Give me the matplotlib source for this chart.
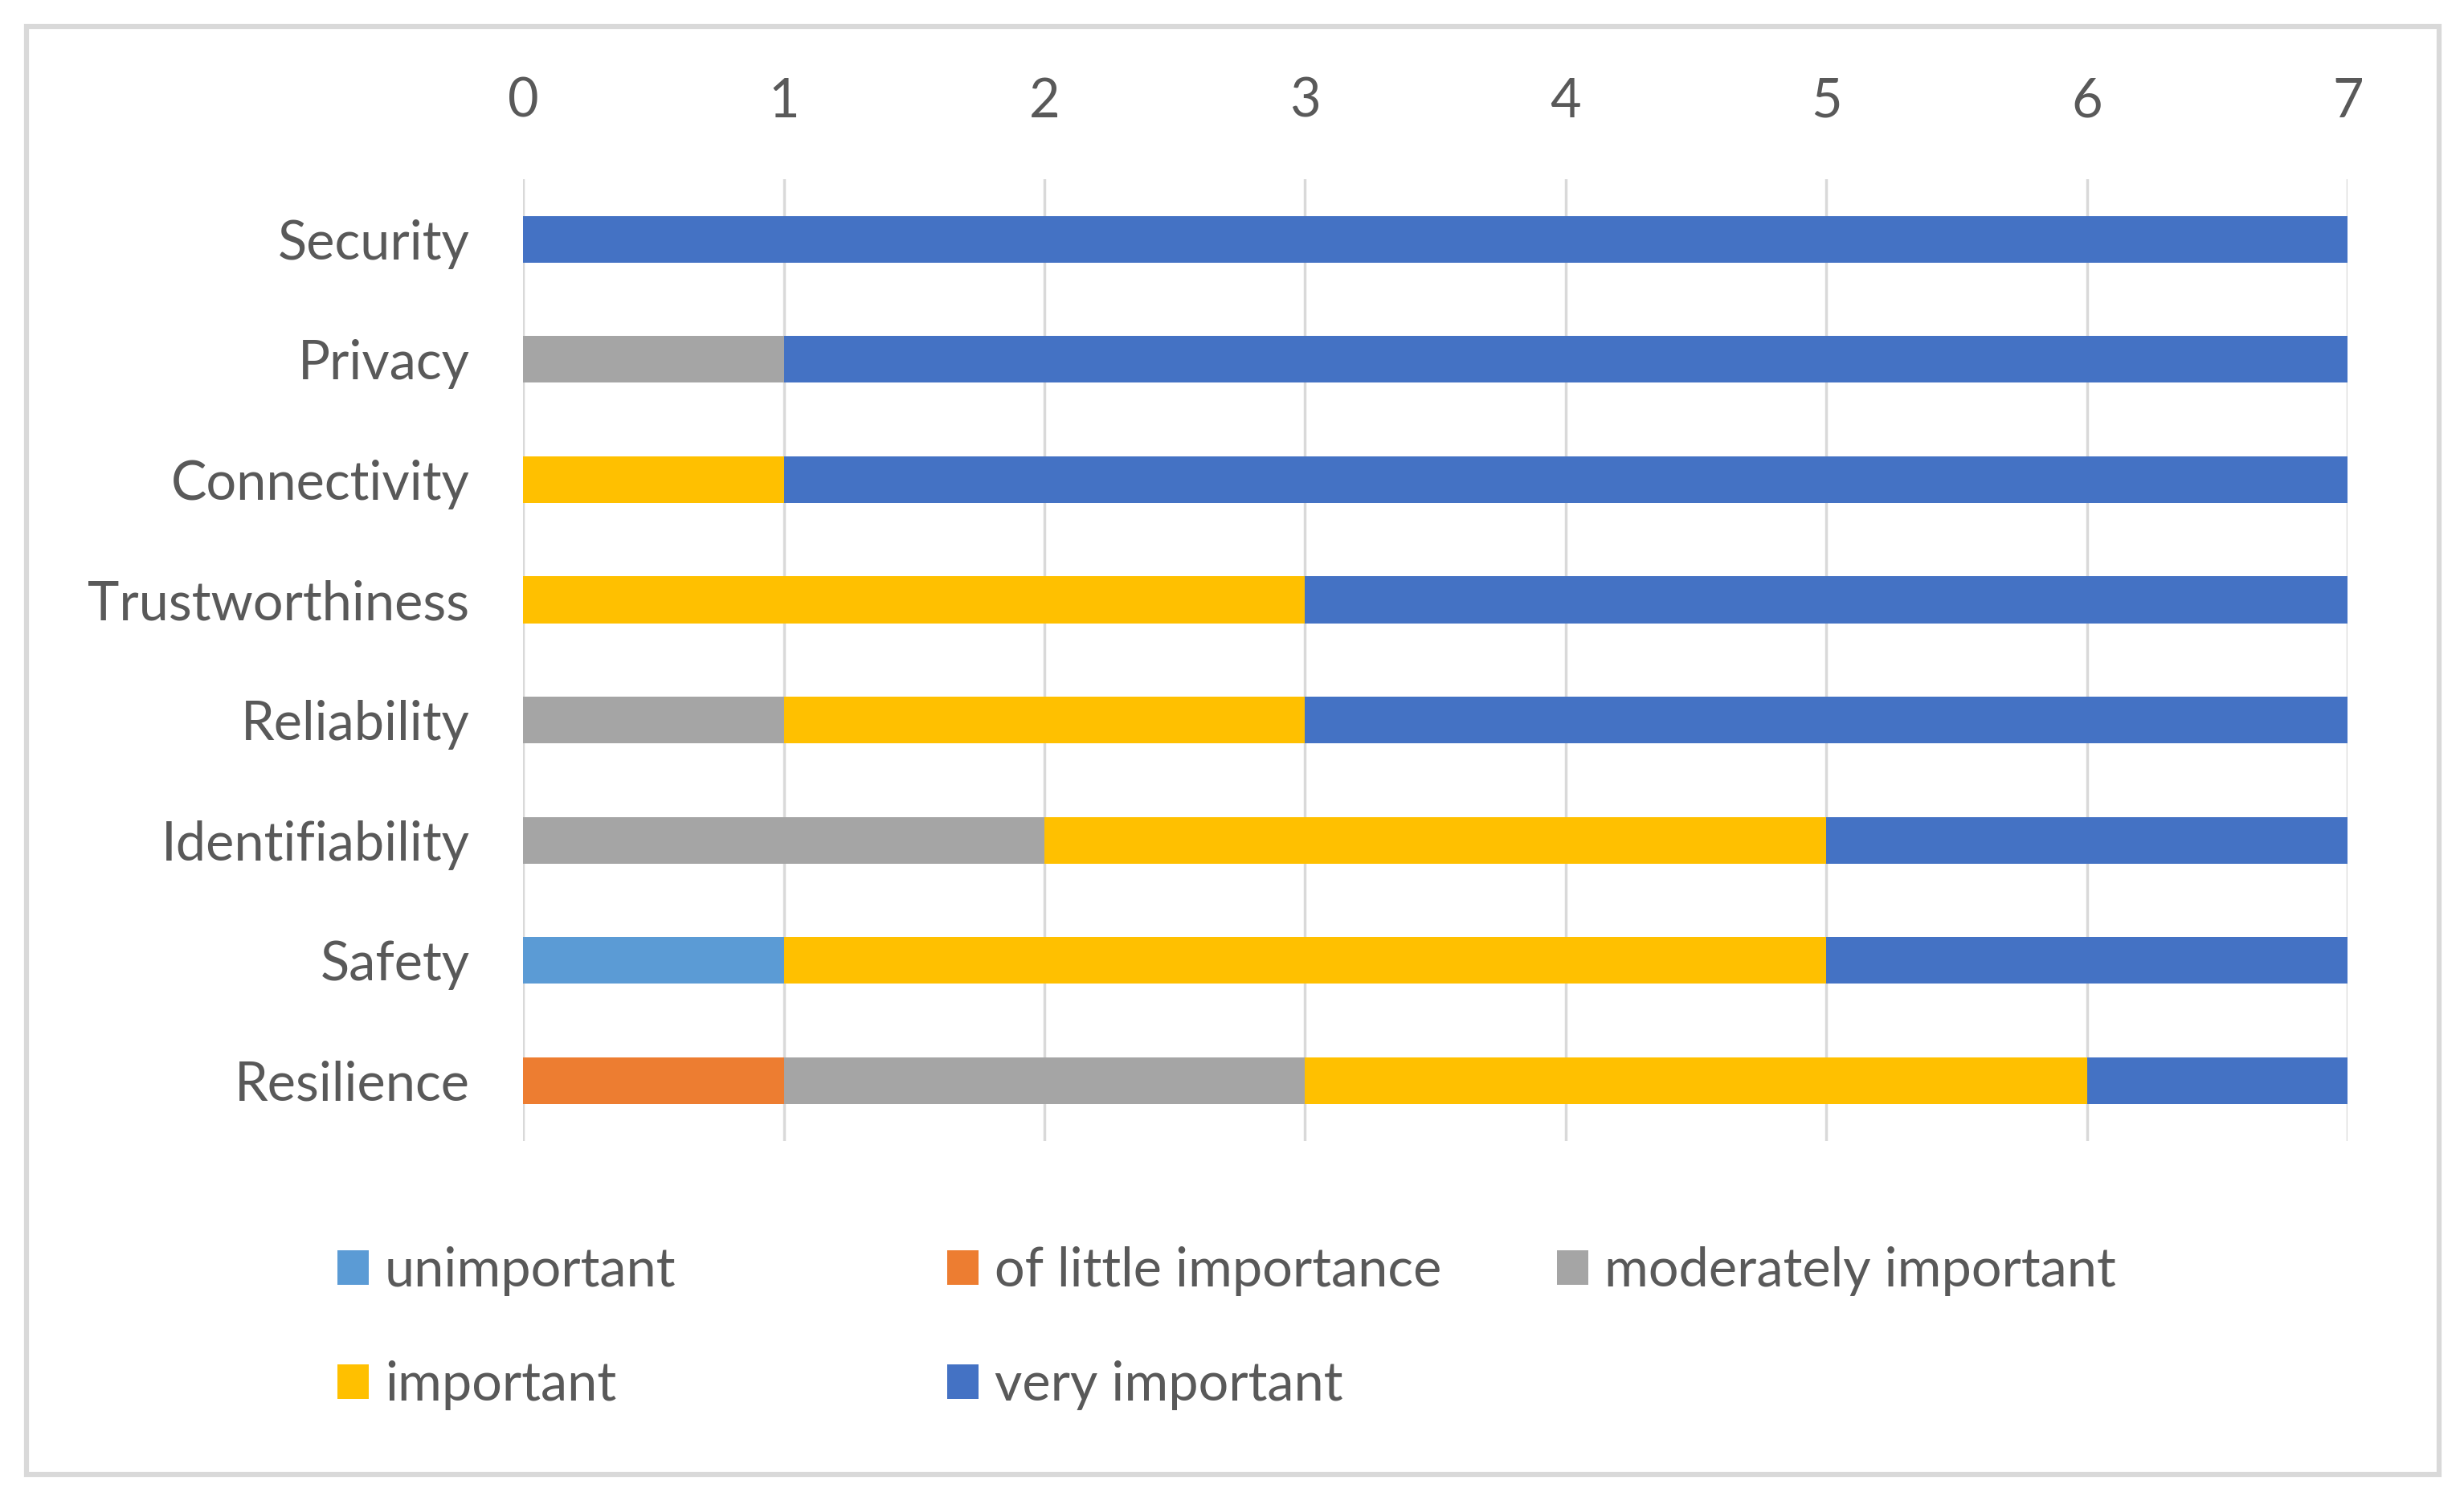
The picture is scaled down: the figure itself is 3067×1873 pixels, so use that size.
import matplotlib
matplotlib.use("Agg")
import matplotlib.pyplot as plt
from matplotlib.patches import Patch, Rectangle
import numpy as np

categories = ["Security", "Privacy", "Connectivity", "Trustworthiness",
              "Reliability", "Identifiability", "Safety", "Resilience"]
series_names = ["unimportant", "of little importance", "moderately important",
                "important", "very important"]
unimportant = [0, 0, 0, 0, 0, 0, 1, 0]
little = [0, 0, 0, 0, 0, 0, 0, 1]
moderately = [0, 1, 0, 0, 1, 2, 0, 2]
important = [0, 0, 1, 3, 2, 3, 4, 3]
very = [7, 6, 6, 4, 4, 2, 2, 1]
colors = ["#5B9BD5", "#ED7D31", "#A5A5A5", "#FFC000", "#4472C4"]
xticks = [0, 1, 2, 3, 4, 5, 6, 7]

plt.rcParams['font.family'] = ['Lato', 'DejaVu Sans']
text_color = "#595959"
fs = 48

fig = plt.figure(figsize=(30.67, 18.73), dpi=100)
ax = fig.add_axes([0.2123, 0.242, 0.9528 - 0.2123, 0.881 - 0.242])

y = np.arange(len(categories))
left = np.zeros(len(categories))
handles = []
for name, vals, c in zip(series_names, [unimportant, little, moderately, important, very], colors):
    vals = np.array(vals, dtype=float)
    ax.barh(y, vals, left=left, height=0.39, color=c, zorder=3)
    left += vals
    handles.append(Patch(facecolor=c, edgecolor='none', label=name))

ax.set_ylim(len(categories) - 0.5, -0.5)
ax.set_xlim(0, 7)
ax.set_xticks(xticks)
ax.xaxis.tick_top()
ax.set_yticks(y)
ax.set_yticklabels(categories)
ax.tick_params(axis='x', length=0, pad=47, labelsize=fs, labelcolor=text_color)
ax.tick_params(axis='y', length=0, pad=48, labelsize=fs, labelcolor=text_color)
for s in ax.spines.values():
    s.set_visible(False)
ax.grid(axis='x', color="#D9D9D9", linewidth=2.5, zorder=0)
ax.grid(axis='y', visible=False)

# legend in three columns, row-wise order as in reference
col_x = [0.137, 0.137 + 759 / 3067, 0.137 + 2 * 759 / 3067]
col_items = [[0, 3], [1, 4], [2]]
for cx, items in zip(col_x, col_items):
    fig.legend(handles=[handles[i] for i in items],
               loc='upper left', bbox_to_anchor=(cx, 0.172),
               frameon=False, fontsize=fs, labelcolor=text_color,
               handlelength=0.58, handleheight=0.62, handletextpad=0.3,
               labelspacing=1.2, borderpad=0, borderaxespad=0)

# outer border
fig.patches.append(Rectangle((0.0108, 0.0203), 0.9899 - 0.0108, 0.9824 - 0.0203,
                             transform=fig.transFigure, fill=False,
                             edgecolor="#D9D9D9", linewidth=4.5))

fig.savefig("out.png", dpi=100, facecolor="white")
